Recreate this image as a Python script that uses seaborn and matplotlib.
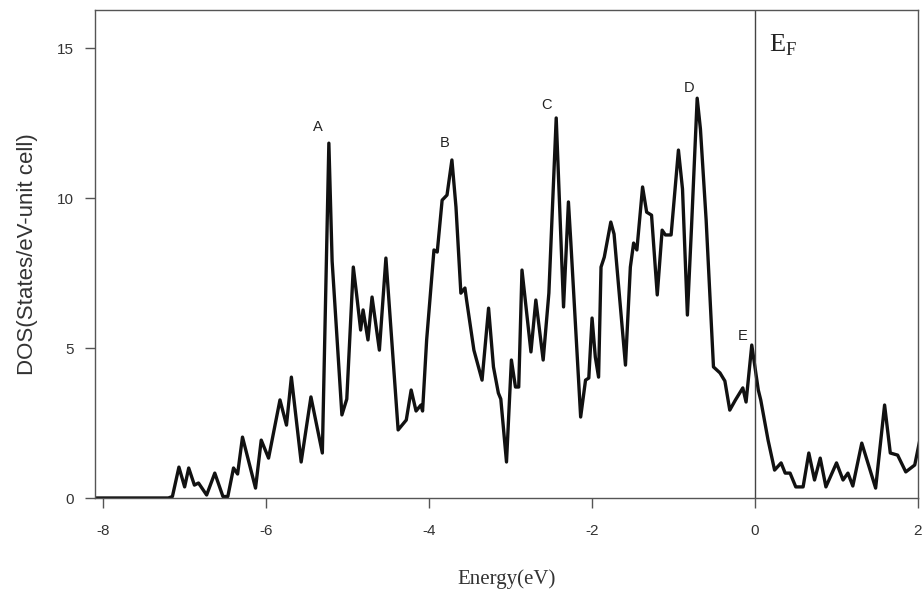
import matplotlib
matplotlib.use("Agg")
import matplotlib.pyplot as plt
import seaborn as sns
import pandas as pd

energy = [-8.1, -7.2, -7.15, -7.07, -7.0, -6.95, -6.88, -6.83, -6.73, -6.63, -6.53, -6.47,
          -6.40, -6.35, -6.29, -6.13, -6.06, -5.97, -5.83, -5.75, -5.69, -5.57, -5.45, -5.31,
          -5.23, -5.19, -5.07, -5.01, -4.93, -4.89, -4.84, -4.81, -4.75, -4.70, -4.61, -4.53,
          -4.38, -4.28, -4.22, -4.16, -4.10, -4.08, -4.03, -3.94, -3.90, -3.84, -3.78, -3.72,
          -3.67, -3.61, -3.56, -3.54, -3.45, -3.35, -3.27, -3.21, -3.15, -3.12, -3.05, -2.99,
          -2.94, -2.90, -2.86, -2.75, -2.69, -2.60, -2.53, -2.44, -2.41, -2.35, -2.29, -2.26,
          -2.14, -2.08, -2.04, -2.00, -1.96, -1.92, -1.89, -1.85, -1.77, -1.73, -1.59, -1.53,
          -1.49, -1.45, -1.38, -1.33, -1.27, -1.20, -1.14, -1.10, -1.03, -0.94, -0.89, -0.83,
          -0.78, -0.71, -0.67, -0.60, -0.51, -0.43, -0.37, -0.31, -0.24, -0.15, -0.11, -0.04,
          0.04, 0.07, 0.16, 0.24, 0.32, 0.37, 0.43, 0.50, 0.59, 0.66, 0.73, 0.80,
          0.87, 1.00, 1.08, 1.14, 1.20, 1.31, 1.48, 1.59, 1.66, 1.75, 1.85, 1.96, 2.02]
dos = [0.0, 0.0, 0.05, 1.03, 0.37, 1.0, 0.43, 0.5, 0.1, 0.83, 0.05, 0.05,
       1.0, 0.8, 2.03, 0.33, 1.93, 1.33, 3.27, 2.43, 4.03, 1.2, 3.37, 1.5,
       11.83, 7.9, 2.77, 3.3, 7.7, 6.8, 5.6, 6.27, 5.27, 6.7, 4.93, 8.0,
       2.27, 2.6, 3.6, 2.9, 3.1, 2.9, 5.27, 8.27, 8.2, 9.93, 10.1, 11.27,
       9.7, 6.83, 7.0, 6.6, 4.93, 3.93, 6.33, 4.37, 3.5, 3.3, 1.2, 4.6,
       3.7, 3.7, 7.6, 4.87, 6.6, 4.6, 6.83, 12.67, 10.6, 6.37, 9.87, 8.5,
       2.7, 3.93, 4.0, 6.0, 4.7, 4.03, 7.7, 8.03, 9.2, 8.8, 4.43, 7.7,
       8.5, 8.27, 10.37, 9.53, 9.43, 6.77, 8.93, 8.77, 8.77, 11.6, 10.3, 6.1,
       9.0, 13.33, 12.3, 9.27, 4.37, 4.17, 3.9, 2.93, 3.27, 3.67, 3.2, 5.1,
       3.6, 3.27, 1.93, 0.93, 1.17, 0.83, 0.83, 0.37, 0.37, 1.5, 0.6, 1.33,
       0.37, 1.17, 0.6, 0.83, 0.4, 1.83, 0.33, 3.1, 1.5, 1.43, 0.87, 1.1, 1.9]

peak_labels = ["A", "B", "C", "D", "E"]
peak_x = [-5.37, -3.81, -2.56, -0.81, -0.15]
peak_y = [12.37, 11.83, 13.1, 13.67, 5.4]

xticks = [-8, -6, -4, -2, 0, 2]
yticks = [0, 5, 10, 15]

df = pd.DataFrame({"Energy": energy, "DOS": dos})

sns.set_theme(style="white")
plt.rcParams["font.family"] = ["Liberation Sans", "DejaVu Sans"]
plt.rcParams["axes.unicode_minus"] = False

fig = plt.figure(figsize=(9.24, 5.94), dpi=100)
ax = fig.add_axes([95 / 924, 1 - 498 / 594, (918 - 95) / 924, (498 - 10) / 594])

sns.lineplot(data=df, x="Energy", y="DOS", ax=ax, color="#111111", linewidth=2.4,
             estimator=None, sort=False)

ax.axvline(0, color="#444444", linewidth=1.0)

ax.set_xlim(-8.1, 2.0)
ax.set_ylim(0, 16.27)
ax.set_xticks(xticks)
ax.set_yticks(yticks)
ax.tick_params(axis="both", direction="out", length=7, width=1, color="#555555",
               labelsize=11, labelcolor="#333333", left=True, bottom=True)
ax.tick_params(axis="x", pad=12)
ax.tick_params(axis="y", pad=8)

for s in ax.spines.values():
    s.set_color("#555555")
    s.set_linewidth(1.0)

ax.set_xlabel("Energy(eV)", fontsize=15, family=["Liberation Serif", "DejaVu Serif"],
              color="#333333", labelpad=22)
ax.set_ylabel("DOS(States/eV-unit cell)", fontsize=16, color="#333333", labelpad=14)

for lab, px, py in zip(peak_labels, peak_x, peak_y):
    ax.text(px, py, lab, fontsize=10.5, ha="center", va="center", color="#222222")

ax.text(0.34, 15.1, r"E$_\mathregular{F}$", fontsize=19, ha="center", va="center",
        family=["Liberation Serif", "DejaVu Serif"], color="#222222")

fig.savefig("out.png", dpi=100)
